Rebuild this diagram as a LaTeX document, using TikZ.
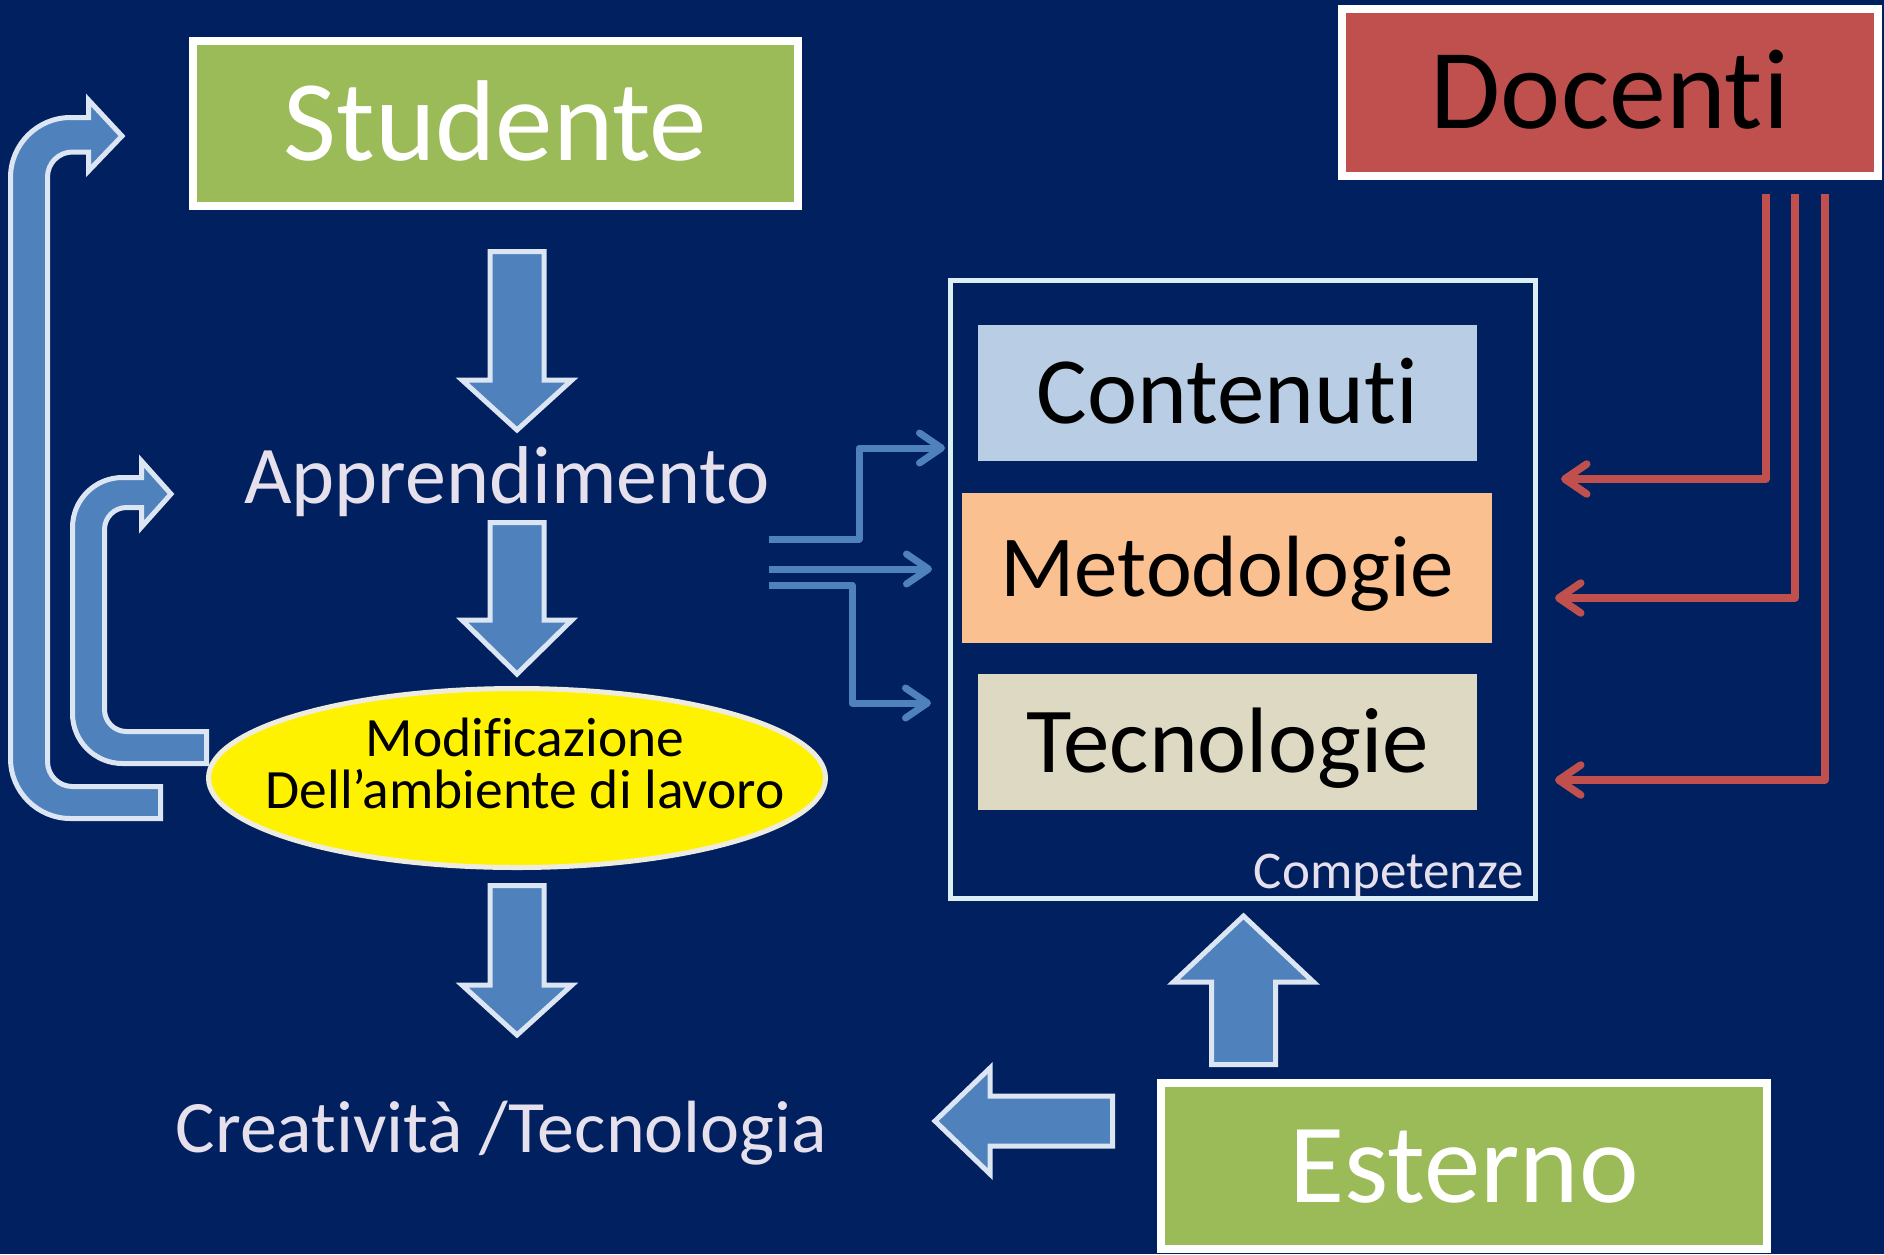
\documentclass[tikz,border=0pt]{standalone}
\usepackage{fontspec}
\setmainfont{Carlito}[Ligatures=NoCommon]
\usetikzlibrary{arrows.meta,shapes.geometric}
\definecolor{navy}{RGB}{0,32,96}
\definecolor{leaf}{RGB}{155,187,89}
\definecolor{brick}{RGB}{192,80,77}
\definecolor{steel}{RGB}{79,129,189}
\definecolor{pale}{RGB}{220,230,242}
\definecolor{lilac}{RGB}{230,224,236}
\definecolor{sky}{RGB}{185,205,229}
\definecolor{peach}{RGB}{250,192,144}
\definecolor{sand}{RGB}{221,217,195}
\definecolor{frameline}{RGB}{219,238,244}
\definecolor{eggshell}{RGB}{238,236,225}
\newcommand{\fsz}[1]{\fontsize{#1}{#1}\selectfont}
\newcommand{\blockdown}[4]{\draw[block] (#1-27,#2) -- (#1+27,#2) -- (#1+27,#3) -- (#1+55,#3) -- (#1,#4) -- (#1-55,#3) -- (#1-27,#3) -- cycle;}
\begin{document}
\begin{tikzpicture}[x=1pt, y=-1pt,
	box/.style={draw=white, line width=8pt, inner sep=0pt, text height=#1, text depth=0pt},
	tag/.style={inner sep=0pt, text height=#1, text depth=0pt},
	block/.style={fill=steel, draw=pale, line width=5pt},
	flow/.style={draw=steel, line width=7pt, line join=round, -{Straight Barb[length=22pt,width=30pt,round]}},
	feed/.style={draw=brick, line width=7.5pt, line join=round, -{Straight Barb[length=22pt,width=30pt,round]}}]
	\fill[navy] (0,0) rectangle (1884,1254);
	\useasboundingbox (0,0) rectangle (1884,1254);
	\draw[block] (160.5,818.5) [rounded corners=60pt] -- (10.5,818.5) -- (10.5,117.5) [sharp corners] -- (88.5,117.5) -- (88.5,100) -- (122,136) -- (88.5,171) -- (88.5,152) [rounded corners=25pt] -- (47.5,152) -- (47.5,786.5) [sharp corners] -- (160.5,786.5) -- cycle;
	\draw[block] (206.5,763.5) [rounded corners=50pt] -- (72.5,763.5) -- (72.5,477.5) [sharp corners] -- (141.5,477.5) -- (141.5,461) -- (171,494) -- (141.5,527) -- (141.5,507.5) [rounded corners=22pt] -- (104.5,507.5) -- (104.5,731.5) [sharp corners] -- (206.5,731.5) -- cycle;
	\node[box=73pt, fill=leaf, text=white, minimum width=605pt, minimum height=165pt, font=\fsz{115}] (stud) at (495.5,123.5) {Studente};
	\node[box=72pt, fill=brick, text=black, minimum width=536pt, minimum height=167pt, font=\fsz{114}] (doc) at (1610,92.5) {Docenti};
	\node[box=72pt, fill=leaf, text=white, minimum width=606pt, minimum height=166pt, font=\fsz{113}] (est) at (1464,1166) {Esterno};
	\node[draw=frameline, line width=5pt, minimum width=585pt, minimum height=618pt] (comp) at (1243,589.5) {};
	\node[tag=61pt, fill=sky, minimum width=499pt, minimum height=136pt, font=\fsz{95}] (cont) at (1227.5,393) {Contenuti};
	\node[tag=56pt, fill=peach, minimum width=530pt, minimum height=150pt, font=\fsz{87}] (met) at (1227,568) {Metodologie};
	\node[tag=60pt, fill=sand, minimum width=499pt, minimum height=136pt, font=\fsz{93}] (tec) at (1227.5,742) {Tecnologie};
	\node[anchor=base east, inner sep=0pt, text=lilac, font=\fsz{53}] (complab) at (1524,888) {Competenze};
	\node[anchor=base, inner sep=0pt, text=lilac, font=\fsz{82}] (appr) at (507,503) {Apprendimento};
	\node[anchor=base, inner sep=0pt, text=lilac, font=\fsz{74}] (crea) at (501.5,1152) {Creatività /Tecnologia};
	\node[ellipse, draw=eggshell, line width=5pt, fill=yellow, inner sep=0pt, minimum width=617pt, minimum height=179pt] (env) at (517,778) {};
	\node[align=center, inner sep=0pt, font=\fontsize{55.5}{52}\selectfont] (envtxt) at (525,763.5) {Modificazione\\Dell’ambiente di lavoro};
	\blockdown{517}{251.5}{380}{430}
	\blockdown{517}{522.5}{620}{674}
	\blockdown{517}{885.5}{985}{1035}
	\draw[block] (1211.5,1064.5) -- (1211.5,982) -- (1173.5,982) -- (1243.5,916) -- (1313.5,982) -- (1275.5,982) -- (1275.5,1064.5) -- cycle;
	\draw[block] (1112.5,1096) -- (990,1096) -- (990,1068) -- (935,1121) -- (990,1174) -- (990,1146) -- (1112.5,1146) -- cycle;
	\coordinate (b1) at (769,539);
	\coordinate (b2) at (769,569);
	\coordinate (b3) at (769,585);
	\coordinate (t1) at (945,448);
	\coordinate (t2) at (932,569);
	\coordinate (t3) at (931,703);
	\draw[flow] (b1) -- (859,539) |- (t1);
	\draw[flow] (b2) -- (t2);
	\draw[flow] (b3) -- (852,585) |- (t3);
	\coordinate (r1) at (1561,479);
	\coordinate (r2) at (1555,598);
	\coordinate (r3) at (1555,780);
	\draw[feed] ([xshift=156pt,yshift=-14pt]doc.south) |- (r1);
	\draw[feed] ([xshift=185pt,yshift=-14pt]doc.south) |- (r2);
	\draw[feed] ([xshift=215pt,yshift=-14pt]doc.south) |- (r3);
\end{tikzpicture}
\end{document}
